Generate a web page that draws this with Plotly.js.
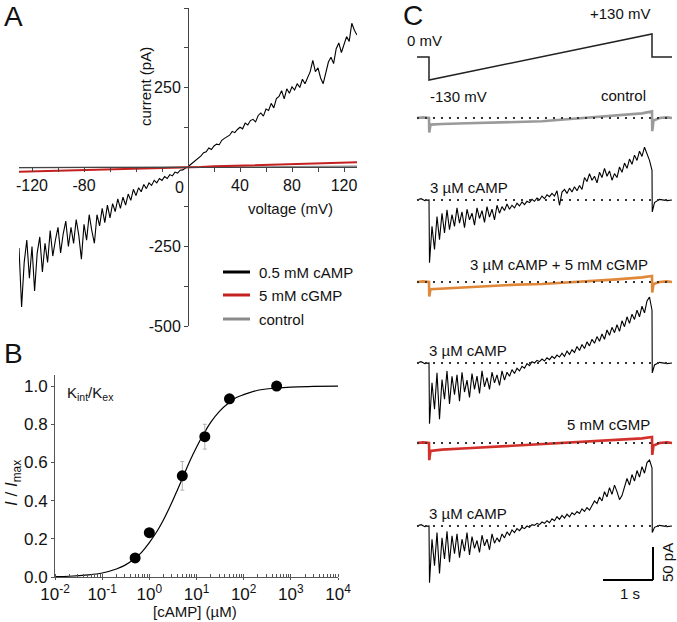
<!DOCTYPE html>
<html>
<head>
<meta charset="utf-8">
<script src="https://cdn.plot.ly/plotly-3.0.1.min.js"></script>
<style>
  html, body { margin: 0; padding: 0; background: #fff; }
  #fig { width: 677px; height: 622px; }
</style>
</head>
<body>
<div id="fig"></div>
<script>
// ---- Panel A: I-V curves (current in pA, ramp sampled every 2 mV) ----
const vStartA = -130, vStepA = 2;
const iA_cAMP = [
  -255, -440, -300, -230, -350, -250, -390, -270, -220, -330,
  -240, -300, -200, -280, -230, -190, -270, -210, -170, -250,
  -190, -240, -165, -215, -290, -180, -230, -150, -200, -240,
  -150, -185, -130, -175, -120, -160, -115, -140, -100, -130,
  -95, -120, -85, -105, -70, -90, -65, -78, -55, -68,
  -50, -58, -42, -50, -36, -42, -30, -36, -24, -28,
  -16, -19, -10, -9, -3, 1, 8, 15, 20, 30,
  35, 45, 48, 60, 55, 66, 72, 70, 84, 90,
  96, 100, 112, 108, 118, 125, 120, 138, 132, 146,
  150, 142, 162, 170, 160, 182, 178, 200, 186, 215,
  222, 240, 214, 246, 232, 252, 242, 262, 250, 276,
  262, 284, 300, 335, 300, 312, 280, 262, 300, 330,
  345, 325, 372, 390, 360, 382, 410, 395, 452, 430,
  415
];
const vA_cGMP = [-130, -120, -110, -100, -90, -80, -70, -60, -50, -40, -30, -20, -10, 0,
  10, 20, 30, 40, 50, 60, 70, 80, 90, 100, 110, 120, 130];
const iA_cGMP = [-15, -14, -14, -12, -12, -11, -10, -9, -8, -7, -6, -4, -3, -1,
  0, 2, 3, 4, 5, 7, 8, 9, 11, 12, 13, 14, 15];
const vA_ctrl = [-130, -110, -90, -70, -50, -30, -10, 10, 30, 50, 70, 90, 110, 130];
const iA_ctrl = [-2, -1, -2, -1, -1, 0, -1, 0, 1, 0, 1, 1, 2, 2];
const legendA = ['0.5 mM cAMP', '5 mM cGMP', 'control'];

// ---- Panel B: dose-response ----
const camp = [0.5, 1, 5, 15, 50, 500];
const iNorm = [0.10, 0.232, 0.53, 0.735, 0.933, 1.0];
const iErr = [0.01, 0.02, 0.075, 0.065, 0.012, 0.005];
const fitX = [0.01, 0.02, 0.05, 0.1, 0.2, 0.3, 0.5, 0.7, 1, 1.5, 2, 3, 4, 5, 7, 10,
  15, 20, 30, 50, 70, 100, 200, 500, 1000, 3000, 10000];
const fitY = [0.002, 0.004, 0.011, 0.021, 0.042, 0.061, 0.098, 0.132, 0.18, 0.245, 0.30,
  0.39, 0.46, 0.515, 0.60, 0.68, 0.76, 0.81, 0.865, 0.915, 0.94, 0.955, 0.978, 0.99,
  0.995, 0.998, 1.0];
const decadeVals = [0.01, 0.1, 1, 10, 100, 1000, 10000];
const decadeText = ['10<sup>-2</sup>', '10<sup>-1</sup>', '10<sup>0</sup>', '10<sup>1</sup>',
  '10<sup>2</sup>', '10<sup>3</sup>', '10<sup>4</sup>'];

// ---- Panel C: current traces (pA relative to baseline), time in s ----
const protoT = [0, 0.24, 0.24, 4.7, 4.7, 5.1];
const protoV = [0, 0, -130, 130, 0, 0];
const tFlat = [0, 0.12, 0.24, 0.245, 0.27, 0.5, 1.0, 1.5, 2.0, 2.5, 3.0, 3.5, 4.0, 4.5, 4.7,
  4.705, 4.73, 4.85, 5.0, 5.1];
const cControl = [0, 1, 0, -22, -10, -9, -8, -7, -6, -5, -2, 1, 4, 7, 10, -20, -4, 0, 1, 0];
const cCampCgmp = [0, 1, 0, -22, -11, -10, -8, -6, -4, -3, -1, 2, 4, 7, 9, -16, -3, 0, 1, 0];
const cCgmp = [0, 1, 0, -26, -12, -10, -8, -6, -4, -2, 0, 2, 4, 7, 9, -18, -4, 0, 1, 0];

const tPre = [0, 0.08, 0.16, 0.24];
const rampT0 = 0.25, rampDt = 0.05;
const tPost = [4.705, 4.75, 4.85, 5.0, 5.1];
const cAmp1 = [
  0, 2, -1, 0,
  -95, -40, -75, -25, -60, -20, -50, -15, -45, -22,
  -40, -12, -35, -18, -42, -14, -30, -20, -38, -12,
  -28, -16, -34, -10, -26, -14, -30, -8, -20, -10,
  -16, -6, -14, -8, -12, -5, -9, -3, -7, -2,
  -4, 1, -2, 3, 0, 6, 2, 8, 5, 10,
  6, 14, -8, 12, 16, 10, 18, 12, 20, 14,
  22, 16, 34, 28, 40, 30, 36, 26, 42, 34,
  48, 36, 44, 30, 40, 34, 50, 42, 56, 48,
  62, 54, 68, 60, 74, 66, 80, 70, 60, 45,
  -18, -4, 1, -1, 0
];
const cAmp2 = [
  0, 2, -1, 0,
  -92, -30, -70, -15, -85, -25, -55, -12, -62, -20,
  -48, -18, -58, -14, -44, -26, -52, -16, -40, -20,
  -46, -12, -36, -22, -40, -14, -30, -18, -34, -12,
  -26, -14, -20, -10, -16, -8, -12, -5, -8, -1,
  -4, 2, 0, 4, 2, 6, 3, 8, 5, 10,
  7, 12, 9, 15, 10, 18, 13, 20, 16, 25,
  19, 28, 22, 32, 26, 36, 30, 40, 33, 44,
  36, 50, 42, 54, 46, 58, 48, 64, 55, 70,
  60, 74, 66, 80, 70, 86, 76, 94, 100, 80,
  -15, -3, 1, -1, 0
];
const cAmp3 = [
  0, 2, -1, 0,
  -86, -20, -60, -10, -72, -18, -50, -8, -55, -15,
  -42, -12, -48, -20, -38, -10, -44, -16, -34, -22,
  -40, -14, -30, -20, -36, -12, -26, -18, -24, -12,
  -18, -9, -14, -6, -10, -4, -7, -2, -4, 0,
  -2, 2, 1, 4, 2, 6, 4, 8, 5, 11,
  8, 14, 10, 16, 12, 18, 14, 20, 17, 22,
  19, 26, 22, 28, 24, 30, 38, 34, 44, 38,
  52, 44, 58, 48, 62, 52, 40, 46, 60, 72,
  62, 78, 68, 84, 74, 90, 80, 96, 100, 88,
  -10, -2, 1, -1, 0
];

// ---- layout helpers (page is 677 x 622, no margins) ----
const W = 677, H = 622;
const fx = p => p / W;
const fy = p => 1 - p / H;
const pxPerPA = 0.66;                    // panel C vertical scale
const rowC = [118, 200, 282, 363, 443, 526]; // baseline rows of the six traces
const baseC = rowC.map(r => (H - r) / pxPerPA);
const FONT = 'Liberation Sans, Arial, sans-serif';

const vA = iA_cAMP.map((_, k) => vStartA + k * vStepA);
const rampCount = cAmp1.length - tPre.length - tPost.length;
const tRamp = [];
for (let k = 0; k < rampCount; k++) tRamp.push(+(rampT0 + k * rampDt).toFixed(3));
const tNoisy = tPre.concat(tRamp, tPost);

const traces = [];

// A
traces.push({ x: vA, y: iA_cAMP, type: 'scatter', mode: 'lines', xaxis: 'x', yaxis: 'y',
  line: { color: '#000', width: 1.1 }, showlegend: false, hoverinfo: 'skip' });
traces.push({ x: vA_ctrl, y: iA_ctrl, type: 'scatter', mode: 'lines', xaxis: 'x', yaxis: 'y',
  line: { color: '#8a8a8a', width: 1.5 }, showlegend: false, hoverinfo: 'skip' });
traces.push({ x: vA_cGMP, y: iA_cGMP, type: 'scatter', mode: 'lines', xaxis: 'x', yaxis: 'y',
  line: { color: '#c42020', width: 2 }, showlegend: false, hoverinfo: 'skip' });

// B
traces.push({ x: fitX, y: fitY, type: 'scatter', mode: 'lines', xaxis: 'x2', yaxis: 'y2',
  line: { color: '#000', width: 1.2, shape: 'spline' }, showlegend: false });
traces.push({ x: camp, y: iNorm, type: 'scatter', mode: 'markers', xaxis: 'x2', yaxis: 'y2',
  marker: { color: '#000', size: 11 },
  error_y: { type: 'data', array: iErr, visible: true, color: '#b0b0b0', thickness: 1, width: 2 },
  showlegend: false });

// C: voltage protocol
traces.push({ x: protoT, y: protoV, type: 'scatter', mode: 'lines', xaxis: 'x3', yaxis: 'y4',
  line: { color: '#222', width: 1.5 }, showlegend: false });

// C: current traces
const cSeries = [
  { t: tFlat, y: cControl, color: '#9a9a9a', width: 2.6 },
  { t: tNoisy, y: cAmp1, color: '#000', width: 1.1 },
  { t: tFlat, y: cCampCgmp, color: '#e0883a', width: 2.6 },
  { t: tNoisy, y: cAmp2, color: '#000', width: 1.1 },
  { t: tFlat, y: cCgmp, color: '#d2302a', width: 2.6 },
  { t: tNoisy, y: cAmp3, color: '#000', width: 1.1 }
];
cSeries.forEach((s, k) => {
  traces.push({ x: s.t, y: s.y.map(v => v + baseC[k]), type: 'scatter', mode: 'lines',
    xaxis: 'x3', yaxis: 'y3', line: { color: s.color, width: s.width }, showlegend: false });
});
cSeries.forEach((s, k) => {
  traces.push({ x: [0, 5.1], y: [baseC[k], baseC[k]], type: 'scatter', mode: 'lines',
    xaxis: 'x3', yaxis: 'y3', line: { color: '#333', width: 1.8, dash: '2px,6px' },
    showlegend: false });
});

// ---- annotations ----
function label(text, x, y, size, opts) {
  return Object.assign({ text: text, x: fx(x), y: fy(y), xref: 'paper', yref: 'paper',
    showarrow: false, xanchor: 'center', yanchor: 'middle',
    font: { family: FONT, size: size, color: '#111' } }, opts || {});
}
const annotations = [
  label('A', 13, 17, 28),
  label('B', 13, 353, 28),
  label('C', 413, 16, 28),
  label('current (pA)', 145, 87, 15, { textangle: -90 }),
  label('voltage (mV)', 290, 208, 15),
  label('0', 179, 187, 16),
  label('<i>I</i> / <i>I</i><sub>max</sub>', 13, 483, 17, { textangle: -90 }),
  label('[cAMP] (µM)', 195, 611, 15),
  label('K<sub>int</sub>/K<sub>ex</sub>', 65, 393, 15, { xanchor: 'left' }),
  label('0 mV', 405, 40, 15, { xanchor: 'left' }),
  label('+130 mV', 652, 14, 15, { xanchor: 'right' }),
  label('-130 mV', 428, 96, 15, { xanchor: 'left' }),
  label('control', 648, 95, 15, { xanchor: 'right' }),
  label('3 µM cAMP', 428, 187, 15, { xanchor: 'left' }),
  label('3 µM cAMP + 5 mM cGMP', 650, 264, 15, { xanchor: 'right' }),
  label('3 µM cAMP', 427, 350, 15, { xanchor: 'left' }),
  label('5 mM cGMP', 652, 425, 15, { xanchor: 'right' }),
  label('3 µM cAMP', 427, 513, 15, { xanchor: 'left' }),
  label('1 s', 630, 593, 15),
  label('50 pA', 667, 563, 15, { textangle: -90 })
];

// legend of panel A drawn by hand
const legendRows = [272, 295, 319];
const legendColors = ['#000', '#c42020', '#8a8a8a'];
const shapes = [];
legendA.forEach((name, k) => {
  shapes.push({ type: 'line', xref: 'paper', yref: 'paper', x0: fx(223), x1: fx(250),
    y0: fy(legendRows[k]), y1: fy(legendRows[k]), line: { color: legendColors[k], width: 3 } });
  annotations.push(label(name, 257, legendRows[k], 15, { xanchor: 'left' }));
});

// scale bars of panel C (1 s, 50 pA)
const barY = (H - 580) / pxPerPA;
shapes.push({ type: 'line', xref: 'x3', yref: 'y3', x0: 3.72, x1: 4.72, y0: barY, y1: barY,
  line: { color: '#000', width: 2 } });
shapes.push({ type: 'line', xref: 'x3', yref: 'y3', x0: 4.72, x1: 4.72, y0: barY, y1: barY + 50,
  line: { color: '#000', width: 2 } });

const tickFont = { family: FONT, size: 16, color: '#111' };
const layout = {
  width: W, height: H,
  margin: { l: 0, r: 0, t: 0, b: 0, pad: 0 },
  paper_bgcolor: '#fff', plot_bgcolor: 'rgba(0,0,0,0)',
  showlegend: false,
  font: { family: FONT, color: '#111' },
  xaxis: {
    domain: [fx(19), fx(357)], range: [-130, 130], anchor: 'free', position: fy(167),
    showline: true, linecolor: '#444', linewidth: 1, showgrid: false, zeroline: false,
    ticks: 'outside', ticklen: 4, tickcolor: '#444', tickfont: tickFont,
    tickvals: [-120, -100, -80, -60, -40, -20, 20, 40, 60, 80, 100, 120],
    ticktext: ['-120', '', '-80', '', '', '', '', '40', '', '80', '', '120']
  },
  yaxis: {
    domain: [fy(326), fy(8)], range: [-500, 500], anchor: 'free', position: fx(188),
    showline: true, linecolor: '#444', linewidth: 1, showgrid: false, zeroline: false,
    ticks: 'outside', ticklen: 4, tickcolor: '#444', tickfont: tickFont,
    tickvals: [-500, -375, -250, -125, 0, 125, 250, 375, 500],
    ticktext: ['-500', '', '-250', '', '', '', '250', '', '500']
  },
  xaxis2: {
    domain: [fx(55), fx(338)], type: 'log', range: [-2, 4], anchor: 'y2',
    showline: true, linecolor: '#555', linewidth: 1, showgrid: false, zeroline: false,
    ticks: 'outside', ticklen: 2, tickcolor: '#555', tickfont: { family: FONT, size: 17, color: '#111' },
    tickvals: decadeVals, ticktext: decadeText,
    minor: { ticks: 'inside', ticklen: 3, tickcolor: '#555', dtick: 'D1', showgrid: false }
  },
  yaxis2: {
    domain: [fy(577), fy(375)], range: [0, 1.058], anchor: 'x2',
    showline: true, linecolor: '#555', linewidth: 1, showgrid: false, zeroline: false,
    ticks: 'outside', ticklen: 3, tickcolor: '#555', tickfont: { family: FONT, size: 17, color: '#111' },
    tickvals: [0, 0.2, 0.4, 0.6, 0.8, 1.0],
    ticktext: ['0.0', '0.2', '0.4', '0.6', '0.8', '1.0']
  },
  xaxis3: { domain: [fx(400), 1], range: [-0.34, 5.2], anchor: 'y3', visible: false },
  yaxis3: { domain: [0, 1], range: [0, H / pxPerPA], anchor: 'x3', visible: false },
  yaxis4: { domain: [fy(90), fy(20)], range: [-186, 209], anchor: 'x3', visible: false },
  annotations: annotations,
  shapes: shapes
};

Plotly.newPlot('fig', traces, layout, { displayModeBar: false, staticPlot: true });
</script>
</body>
</html>
